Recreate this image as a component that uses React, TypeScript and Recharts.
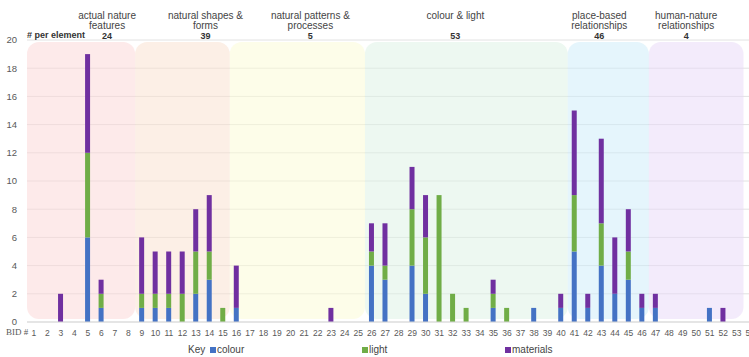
import React from 'react';
import { BarChart, Bar, XAxis, YAxis, CartesianGrid, ReferenceArea, Legend } from 'recharts';

// BID numbers along the x axis
const bids = [
  1, 2, 3, 4, 5, 6, 7, 8, 9, 10, 11, 12, 13, 14, 15, 16, 17, 18, 19, 20, 21, 22, 23, 24, 25, 26, 27,
  28, 29, 30, 31, 32, 33, 34, 35, 36, 37, 38, 39, 40, 41, 42, 43, 44, 45, 46, 47, 48, 49, 50, 51, 52,
  53, 54,
];

// counts per BID
const colour = [
  0, 0, 0, 0, 6, 1, 0, 0, 1, 1, 1, 0, 2, 3, 0, 1, 0, 0, 0, 0, 0, 0, 0, 0, 0, 4, 3,
  0, 4, 2, 0, 0, 0, 0, 1, 0, 0, 1, 0, 1, 5, 1, 4, 2, 3, 1, 1, 0, 0, 0, 1, 0, 0, 0,
];
const light = [
  0, 0, 0, 0, 6, 1, 0, 0, 1, 1, 1, 2, 3, 2, 1, 0, 0, 0, 0, 0, 0, 0, 0, 0, 0, 1, 1,
  0, 4, 4, 9, 2, 1, 0, 1, 1, 0, 0, 0, 0, 4, 0, 3, 0, 2, 0, 0, 0, 0, 0, 0, 0, 0, 0,
];
const materials = [
  0, 0, 2, 0, 7, 1, 0, 0, 4, 3, 3, 3, 3, 4, 0, 3, 0, 0, 0, 0, 0, 0, 1, 0, 0, 2, 3,
  0, 3, 3, 0, 0, 0, 0, 1, 0, 0, 0, 0, 1, 6, 1, 6, 4, 3, 1, 1, 0, 0, 0, 0, 1, 0, 0,
];

const yTicks = [0, 2, 4, 6, 8, 10, 12, 14, 16, 18, 20];

// element groups (shaded bands behind the bars)
const groupTitles = [
  ['actual nature', 'features'],
  ['natural shapes &', 'forms'],
  ['natural patterns &', 'processes'],
  ['colour & light'],
  ['place-based', 'relationships'],
  ['human-nature', 'relationships'],
];
const groupCounts = [24, 39, 5, 53, 46, 4];
const groupFirst = [1, 9, 16, 26, 41, 47];
const groupLast = [8, 15, 25, 40, 46, 53];

const data = bids.map((bid, i) => ({
  bid,
  colour: colour[i],
  light: light[i],
  materials: materials[i],
}));

const W = 760;
const H = 357;
const Y_AXIS_W = 27;
const RIGHT = 3;

const groupFills = ['#fbd5d5', '#f9dfcd', '#fbfbd3', '#dcf1e3', '#cbebf9', '#e7d7f7'];
const titleShift = [26, 23, 13, -11, -9, -10];

const FONT = '"Liberation Sans", Arial, sans-serif';

function groupShape(i: number) {
  return (props: any) => {
    const { x, y, width, height } = props;
    const cx = x + width / 2 + titleShift[i];
    return (
      <g>
        <rect
          x={x}
          y={y + 2}
          width={width}
          height={height - 5}
          rx={12}
          ry={12}
          fill={groupFills[i]}
          fillOpacity={0.5}
        />
        {groupTitles[i].map((t, k) => (
          <text key={k} x={cx} y={18.5 + k * 10.5} textAnchor="middle" fontSize={10} fill="#444" fontFamily={FONT}>
            {t}
          </text>
        ))}
        <text x={cx} y={38.5} textAnchor="middle" fontSize={9} fontWeight="bold" fill="#333" fontFamily={FONT}>
          {groupCounts[i]}
        </text>
      </g>
    );
  };
}

const legendItems = [
  { name: 'colour', color: '#4472c4', left: 210 },
  { name: 'light', color: '#70ad47', left: 362 },
  { name: 'materials', color: '#7030a0', left: 505 },
];

function KeyLegend() {
  return (
    <div style={{ position: 'relative', width: W, height: 20, fontFamily: FONT, fontSize: 10, color: '#444' }}>
      <span style={{ position: 'absolute', left: 188, top: 7 }}>Key</span>
      {legendItems.map((it) => (
        <span key={it.name} style={{ position: 'absolute', left: it.left, top: 7, whiteSpace: 'nowrap' }}>
          <span
            style={{ display: 'inline-block', width: 6, height: 6, background: it.color, marginRight: 1, verticalAlign: 'middle' }}
          />
          {it.name}
        </span>
      ))}
    </div>
  );
}

export default function App() {
  return (
    <div style={{ position: 'absolute', left: 0, top: 0, width: 749, height: 357, overflow: 'hidden', background: '#fff' }}>
      <BarChart width={W} height={H} data={data} margin={{ top: 40, right: RIGHT, bottom: 0, left: 0 }}>
        <CartesianGrid vertical={false} stroke="#e2e2e2" />
        {groupFirst.map((g, i) => (
          <ReferenceArea key={i} x1={g} x2={groupLast[i]} y1={0} y2={20} shape={groupShape(i)} ifOverflow="visible" />
        ))}
        <XAxis
          dataKey="bid"
          interval={0}
          tickLine={false}
          axisLine={{ stroke: '#d9d9d9' }}
          height={15}
          tick={{ fontSize: 8.5, fill: '#595959', fontFamily: FONT }}
        />
        <YAxis
          width={Y_AXIS_W}
          domain={[0, 20]}
          ticks={yTicks}
          axisLine={false}
          tickLine={false}
          tickSize={8}
          tickMargin={2}
          tick={{ fontSize: 9.5, fill: '#595959', fontFamily: FONT }}
        />
        <Legend verticalAlign="bottom" height={20} content={() => <KeyLegend />} />
        <Bar dataKey="colour" stackId="a" fill="#4472c4" barSize={5} isAnimationActive={false} />
        <Bar dataKey="light" stackId="a" fill="#70ad47" barSize={5} isAnimationActive={false} />
        <Bar dataKey="materials" stackId="a" fill="#7030a0" barSize={5} isAnimationActive={false} />
      </BarChart>
      <div style={{ position: 'absolute', left: 27, top: 30, fontFamily: FONT, fontSize: 9, fontWeight: 'bold', color: '#333' }}>
        # per element
      </div>
      <div style={{ position: 'absolute', left: 6, top: 327, fontFamily: '"Liberation Serif", serif', fontSize: 9, color: '#595959' }}>
        BID #
      </div>
    </div>
  );
}
